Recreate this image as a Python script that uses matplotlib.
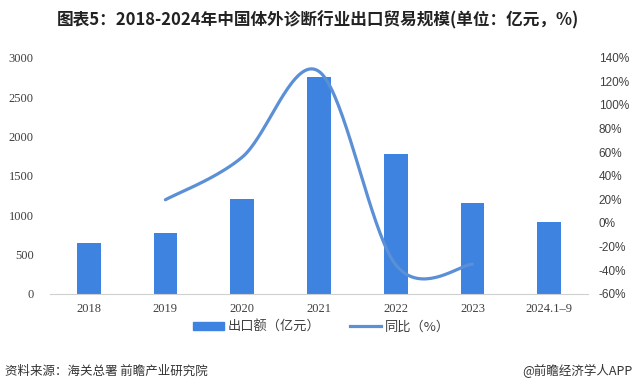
import numpy as np
import matplotlib
matplotlib.use('Agg')
import matplotlib.pyplot as plt
from matplotlib.patches import Patch
from matplotlib.lines import Line2D

plt.rcParams['font.family'] = ['Noto Sans CJK SC', 'DejaVu Sans']

# data
years = ['2018', '2019', '2020', '2021', '2022', '2023', '2024.1\u20139']
export_value = [648, 775, 1207, 2757, 1779, 1156, 915]   # 亿元
yoy_years = [1, 2, 3, 4, 5]
yoy = [19.6, 55.7, 128.4, -35.5, -35.0]                 # %

bar_color = '#3d83df'
line_color = '#5b8fd6'

def smooth(xs, ys, n=40):
    # Excel-like smoothed line: bezier segments with catmull-rom control points
    xs = np.asarray(xs, float); ys = np.asarray(ys, float)
    px, py = [], []
    for i in range(len(xs) - 1):
        x0, y0 = (xs[i - 1], ys[i - 1]) if i > 0 else (xs[i], ys[i])
        x3, y3 = (xs[i + 2], ys[i + 2]) if i + 2 < len(xs) else (xs[i + 1], ys[i + 1])
        x1, y1 = xs[i], ys[i]
        x2, y2 = xs[i + 1], ys[i + 1]
        c1 = (x1 + (x2 - x0) / 6, y1 + (y2 - y0) / 6)
        c2 = (x2 - (x3 - x1) / 6, y2 - (y3 - y1) / 6)
        t = np.linspace(0, 1, n)
        bx = (1-t)**3*x1 + 3*(1-t)**2*t*c1[0] + 3*(1-t)*t**2*c2[0] + t**3*x2
        by = (1-t)**3*y1 + 3*(1-t)**2*t*c1[1] + 3*(1-t)*t**2*c2[1] + t**3*y2
        px.extend(bx); py.extend(by)
    return px, py

fig = plt.figure(figsize=(6.36, 3.9), dpi=100)
ax = fig.add_axes([0.079, 0.247, 0.845, 0.605])
x = np.arange(len(years))
ax.bar(x, export_value, width=0.31, color=bar_color, zorder=2)
ax.set_xlim(-0.5, len(years) - 0.5)
ax.set_ylim(0, 3000)
ax.set_yticks(range(0, 3001, 500))
ax.set_xticks(x)
ax.set_xticklabels(years)
for s in ['top', 'right', 'left']:
    ax.spines[s].set_visible(False)
ax.spines['bottom'].set_color('#d0d0d0')
ax.tick_params(axis='both', length=0, colors='#404040', labelsize=9)
ax.tick_params(axis='y', pad=12)
ax.tick_params(axis='x', pad=7)
for lb in ax.get_xticklabels() + ax.get_yticklabels():
    lb.set_family('Liberation Serif')

ax2 = ax.twinx()
sx, sy = smooth(yoy_years, yoy)
ax2.plot(sx, sy, color=line_color, lw=2.3, solid_capstyle='round', zorder=3)
ax2.set_ylim(-60, 140)
ax2.set_yticks(range(-60, 141, 20))
ax2.set_yticklabels([f'{v}%' for v in range(-60, 141, 20)])
for s in ['top', 'right', 'left', 'bottom']:
    ax2.spines[s].set_visible(False)
ax2.tick_params(axis='y', length=0, colors='#404040', labelsize=8.5, pad=8)
for lb in ax2.get_yticklabels():
    lb.set_family('Liberation Sans')

handles = [Patch(color=bar_color), Line2D([0], [0], color=line_color, lw=2.3)]
fig.legend(handles, ['出口额（亿元）', '同比（%）'], loc='center',
           bbox_to_anchor=(0.505, 0.162), ncol=2, frameon=False, fontsize=9.5,
           handlelength=2.4, handleheight=0.55, handletextpad=0.25,
           columnspacing=2.2, labelcolor='#404040')

fig.text(0.5, 0.948, '图表5：2018-2024年中国体外诊断行业出口贸易规模(单位：亿元，%)',
         ha='center', va='center', fontsize=12, fontweight='bold', color='#222222')
fig.text(0.008, 0.048, '资料来源：海关总署 前瞻产业研究院', ha='left', va='center',
         fontsize=9, color='#333333')
fig.text(0.995, 0.048, '@前瞻经济学人APP', ha='right', va='center',
         fontsize=9, color='#333333')

fig.savefig('out.png', dpi=100)
